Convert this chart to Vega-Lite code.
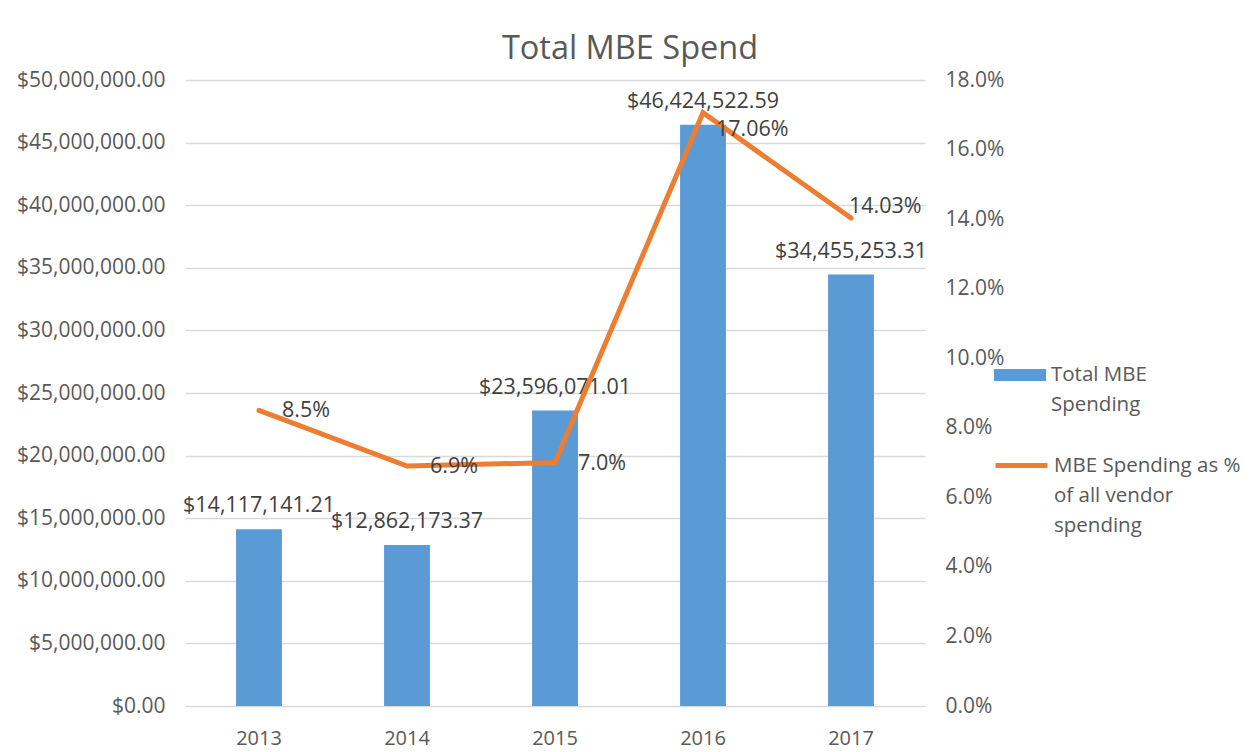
{
  "$schema": "https://vega.github.io/schema/vega-lite/v6.json",
  "autosize": {"type": "none"},
  "padding": {"left": 185, "top": 80, "right": 328, "bottom": 46},
  "width": 740,
  "height": 626,
  "background": "white",
  "title": {
    "text": "Total MBE Spend",
    "font": "Open Sans",
    "fontSize": 32.5,
    "fontWeight": "normal",
    "color": "#595959",
    "anchor": "middle",
    "dx": 75,
    "offset": 4
  },
  "data": {
    "values": [
      {"year": "2013", "spend": 14117141.21, "pct": 0.085, "pctLabel": "8.5%"},
      {"year": "2014", "spend": 12862173.37, "pct": 0.069, "pctLabel": "6.9%"},
      {"year": "2015", "spend": 23596071.01, "pct": 0.070, "pctLabel": "7.0%"},
      {"year": "2016", "spend": 46424522.59, "pct": 0.1706, "pctLabel": "17.06%"},
      {"year": "2017", "spend": 34455253.31, "pct": 0.1403, "pctLabel": "14.03%"}
    ]
  },
  "encoding": {
    "x": {
      "field": "year",
      "type": "nominal",
      "scale": {"paddingInner": 0.69, "paddingOuter": 0.345},
      "axis": {
        "title": null,
        "labelAngle": 0,
        "domain": false,
        "ticks": false,
        "labelPadding": 32,
        "labelFontSize": 20,
        "labelBaseline": "middle"
      }
    }
  },
  "layer": [
    {
      "layer": [
        {
          "mark": {"type": "bar", "color": "#5b9bd5"},
          "encoding": {
            "y": {
              "field": "spend",
              "type": "quantitative",
              "scale": {"domain": [0, 50000000], "nice": false},
              "axis": {
                "title": null,
                "orient": "left",
                "format": "$,.2f",
                "values": [0, 5000000, 10000000, 15000000, 20000000, 25000000, 30000000, 35000000, 40000000, 45000000, 50000000],
                "domain": false,
                "ticks": false,
                "labelPadding": 20,
                "grid": true,
                "gridColor": "#d9d9d9",
                "gridWidth": 1.5
              }
            },
            "fill": {
              "datum": "Total MBE Spending",
              "type": "nominal",
              "scale": {"range": ["#5b9bd5"]},
              "legend": {
                "title": null,
                "orient": "none",
                "legendX": 808,
                "legendY": 268,
                "symbolType": "M-1,-0.23H1V0.23H-1Z",
                "symbolSize": 2704,
                "labelExpr": "['Total MBE', 'Spending']",
                "labelLimit": 300
              }
            }
          }
        },
        {
          "mark": {"type": "text", "dy": -23, "baseline": "middle", "align": "center", "color": "#404040", "font": "Open Sans", "fontSize": 21.5},
          "encoding": {
            "y": {"field": "spend", "type": "quantitative"},
            "text": {"field": "spend", "type": "quantitative", "format": "$,.2f"}
          }
        }
      ]
    },
    {
      "layer": [
        {
          "mark": {"type": "line", "strokeWidth": 5, "color": "#ed7d31", "strokeCap": "round"},
          "encoding": {
            "y": {
              "field": "pct",
              "type": "quantitative",
              "scale": {"domain": [0, 0.18], "nice": false},
              "axis": {
                "title": null,
                "orient": "right",
                "format": ".1%",
                "values": [0, 0.02, 0.04, 0.06, 0.08, 0.1, 0.12, 0.14, 0.16, 0.18],
                "domain": false,
                "ticks": false,
                "grid": false,
                "labelPadding": 20
              }
            },
            "stroke": {
              "datum": "MBE Spending as % of all vendor spending",
              "type": "nominal",
              "scale": {"range": ["#ed7d31"]},
              "legend": {
                "title": null,
                "orient": "none",
                "legendX": 808,
                "legendY": 357,
                "symbolType": "stroke",
                "symbolSize": 2704,
                "symbolStrokeWidth": 5,
                "labelExpr": "['MBE Spending as %', 'of all vendor', 'spending']",
                "labelLimit": 300
              }
            }
          }
        },
        {
          "transform": [{"filter": "datum.year <= '2015'"}],
          "mark": {"type": "text", "dx": 23, "dy": 1, "align": "left", "baseline": "middle", "color": "#404040", "font": "Open Sans", "fontSize": 21.5},
          "encoding": {
            "y": {"field": "pct", "type": "quantitative"},
            "text": {"field": "pctLabel", "type": "nominal"}
          }
        },
        {
          "transform": [{"filter": "datum.year == '2016'"}],
          "mark": {"type": "text", "dx": 13, "dy": 17, "align": "left", "baseline": "middle", "color": "#404040", "font": "Open Sans", "fontSize": 21.5},
          "encoding": {
            "y": {"field": "pct", "type": "quantitative"},
            "text": {"field": "pctLabel", "type": "nominal"}
          }
        },
        {
          "transform": [{"filter": "datum.year == '2017'"}],
          "mark": {"type": "text", "dx": -2, "dy": -11, "align": "left", "baseline": "middle", "color": "#404040", "font": "Open Sans", "fontSize": 21.5},
          "encoding": {
            "y": {"field": "pct", "type": "quantitative"},
            "text": {"field": "pctLabel", "type": "nominal"}
          }
        }
      ]
    }
  ],
  "resolve": {"scale": {"y": "independent"}},
  "config": {
    "view": {"stroke": null},
    "font": "Open Sans",
    "style": {"guide-label": {"lineHeight": 30}},
    "axis": {
      "labelFont": "Open Sans",
      "labelFontSize": 21,
      "labelColor": "#595959"
    },
    "legend": {
      "labelFont": "Open Sans",
      "labelFontSize": 20.5,
      "labelColor": "#595959",
      "labelOffset": 4,
      "rowPadding": 10
    }
  }
}
